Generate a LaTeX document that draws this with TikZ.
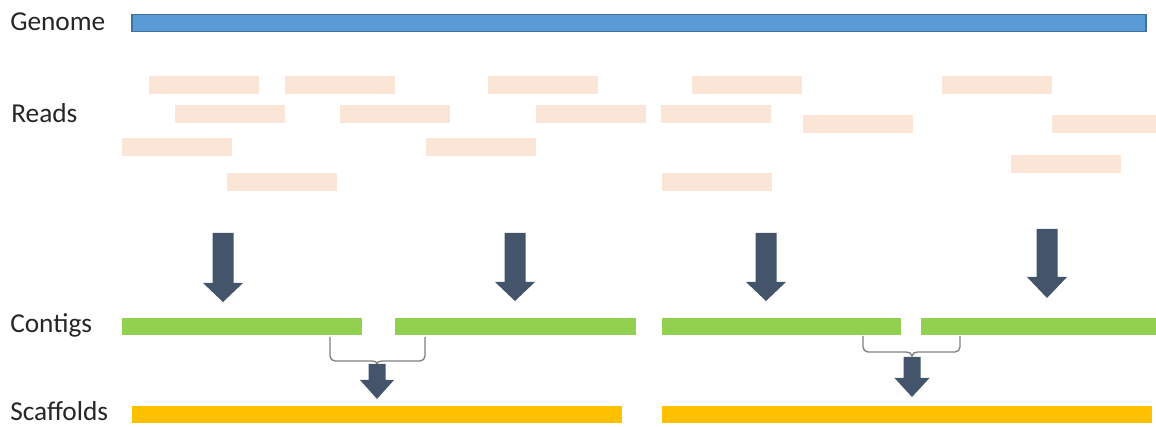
\documentclass[tikz,border=0pt]{standalone}
\usepackage{fontspec}
\setmainfont{Carlito}
\definecolor{genomeblue}{HTML}{5B9BD5}
\definecolor{genomeedge}{HTML}{41719C}
\definecolor{readfill}{HTML}{FBE5D6}
\definecolor{contiggreen}{HTML}{92D050}
\definecolor{scaforange}{HTML}{FFC000}
\definecolor{arrowblue}{HTML}{44546A}
\definecolor{bracegray}{HTML}{7F7F7F}
\definecolor{labelgray}{HTML}{262626}
\tikzset{
  genomebar/.style={fill=genomeblue, draw=genomeedge, line width=0.8pt},
  readbar/.style={fill=readfill, draw=none},
  contigbar/.style={fill=contiggreen, draw=none},
  scafbar/.style={fill=scaforange, draw=none},
  blockarrow/.style={fill=arrowblue, draw=none},
  bracepath/.style={draw=bracegray, line width=1pt},
  rowlabel/.style={anchor=base west, inner sep=0pt, text=labelgray, font=\fontsize{20.5}{23}\selectfont},
}
% \bkarrow{cx}{top}{headstart}{tip}{half shaft}{half head}
\newcommand\bkarrow[6]{%
  \fill[blockarrow] (#1-#5,#2) -- (#1+#5,#2) -- (#1+#5,#3) -- (#1+#6,#3) -- (#1,#4) -- (#1-#6,#3) -- (#1-#5,#3) -- cycle;}
\begin{document}
\begin{tikzpicture}[x=0.75pt,y=-0.75pt]
\useasboundingbox (0,0) rectangle (1156,427);
% labels
\node[rowlabel] (lgenome) at (10,31) {Genome};
\node[rowlabel] (lreads) at (11,123) {Reads};
\node[rowlabel] (lcontigs) at (10,333) {Contigs};
\node[rowlabel] (lscaf) at (10,421) {Scaffolds};
% genome
\draw[genomebar] (132,14.5) rectangle (1146,31.5);
% reads
\foreach \x/\y in {149/76, 285/76, 488/76, 692/76, 942/76,
                   175/105, 340/105, 536/105, 661/105,
                   803/115, 1052/115,
                   122/138, 426/138, 1011/155,
                   227/173, 662/173}
  \fill[readbar] (\x,\y) rectangle ++(110,18.5);
% big arrows
\bkarrow{223}{233}{283}{302}{10.5}{20}
\bkarrow{515}{233}{282}{301}{10.5}{20}
\bkarrow{766}{233}{282}{301}{10.5}{20}
\bkarrow{1047}{229}{277}{298}{10.5}{20}
% contigs
\fill[contigbar] (122,318) rectangle (362,335);
\fill[contigbar] (395,318) rectangle (636,335);
\fill[contigbar] (662,318) rectangle (901,335);
\fill[contigbar] (921,318) rectangle (1156,335);
% braces
\draw[bracepath] (330,337) -- (330,356) to[out=-90,in=180] (335,361) -- (371,361)
  to[out=0,in=90] (377,364) to[out=90,in=180] (383,361) -- (420,361)
  to[out=0,in=-90] (425,356) -- (425,337);
\draw[bracepath] (863,336) -- (863,347) to[out=-90,in=180] (868,352) -- (906,352)
  to[out=0,in=90] (912,356) to[out=90,in=180] (918,352) -- (955,352)
  to[out=0,in=-90] (960,347) -- (960,336);
% small arrows
\bkarrow{377}{364}{380}{399}{8.5}{17}
\bkarrow{912}{357}{378}{397}{8.5}{17.5}
% scaffolds
\fill[scafbar] (132,406) rectangle (622,423);
\fill[scafbar] (662,406) rectangle (1152,423);
\end{tikzpicture}
\end{document}
